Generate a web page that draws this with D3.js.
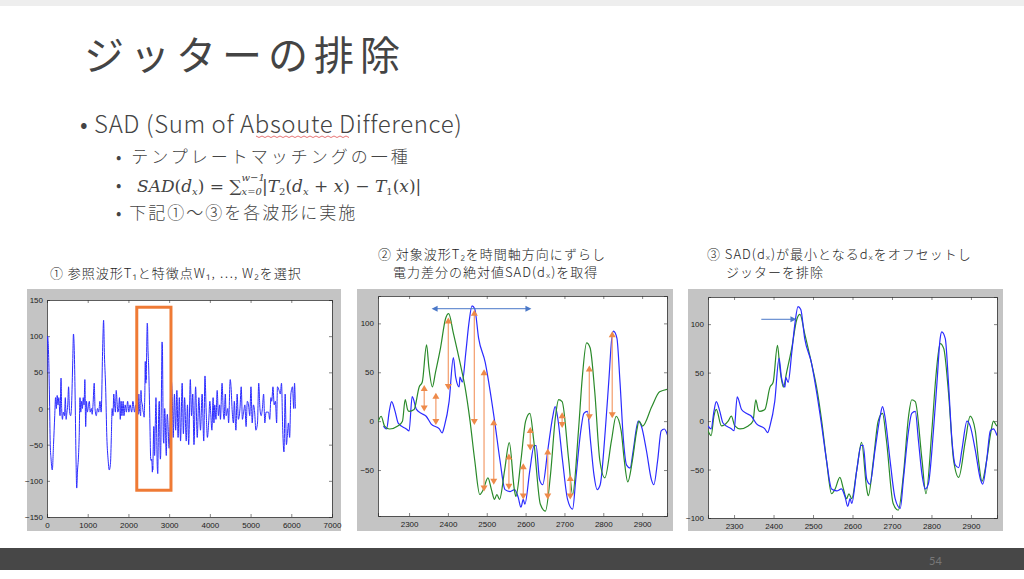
<!DOCTYPE html>
<html><head><meta charset="utf-8">
<script src="https://cdn.jsdelivr.net/npm/d3@7"></script>
<style>body{margin:0;background:#fff}svg{display:block}</style>
</head><body>
<svg id="s" width="1024" height="579"></svg>
<script>
// ---- data ----
const refWave = [[0,50],[15,100],[30,90],[60,20],[80,-50],[100,-70],[130,-85],[160,-50],[190,-10],[210,15],[230,0],[250,18],[270,5],[290,15],[320,-10],[345,42],[360,0],[380,-15],[400,-5],[430,-10],[450,15],[470,-15],[490,-5],[510,5],[530,30],[555,-5],[580,-10],[600,0],[630,60],[650,103],[670,80],[690,20],[710,-60],[730,-110],[750,-85],[770,-70],[790,-40],[810,15],[830,-5],[850,10],[870,0],[890,15],[910,5],[930,40],[950,-25],[970,10],[990,-5],[1010,0],[1040,10],[1060,-5],[1090,0],[1110,-8],[1130,5],[1160,35],[1180,0],[1210,-10],[1240,0],[1270,-5],[1300,10],[1330,-5],[1370,90],[1390,122],[1410,75],[1440,30],[1470,-40],[1500,-70],[1530,-85],[1560,-75],[1580,-40],[1600,0],[1620,-10],[1640,20],[1660,5],[1680,-5],[1700,25],[1720,10],[1740,-5],[1760,0],[1780,15],[1800,-15],[1820,10],[1840,-10],[1870,10],[1890,-10],[1920,5],[1950,-5],[1980,10],[2010,-5],[2040,5],[2080,-5],[2110,10],[2150,-5],[2180,5],[2210,-10]];
const refWaveTail = [[3000,-55],[3050,40],[3080,10],[3100,-40],[3130,20],[3160,-30],[3190,25],[3220,-40],[3250,15],[3280,-45],[3320,35],[3350,-35],[3380,15],[3420,-45],[3450,5],[3480,-50],[3520,40],[3550,-10],[3580,20],[3610,-50],[3650,30],[3690,-40],[3730,15],[3770,-30],[3810,20],[3850,-45],[3880,45],[3910,-5],[3940,-40],[3970,-20],[4000,10],[4020,-5],[4050,-30],[4080,15],[4100,-20],[4120,5],[4150,-15],[4180,25],[4210,-10],[4240,5],[4260,-15],[4300,35],[4330,-5],[4350,-15],[4380,20],[4400,-10],[4440,0],[4460,-20],[4500,40],[4520,30],[4550,-5],[4580,-20],[4600,10],[4640,-30],[4670,20],[4700,-15],[4740,0],[4770,30],[4800,-15],[4830,-5],[4860,5],[4890,-25],[4920,10],[4950,5],[4980,-10],[5010,30],[5040,-20],[5070,5],[5100,-5],[5130,-30],[5170,-20],[5200,35],[5230,0],[5260,-10],[5290,0],[5320,20],[5350,-20],[5380,-5],[5410,-5],[5440,-5],[5470,-15],[5500,15],[5520,10],[5550,30],[5580,5],[5610,10],[5640,-20],[5660,30],[5700,25],[5730,20],[5760,35],[5790,-30],[5820,-60],[5850,20],[5880,-50],[5900,-40],[5930,-20],[5960,-40],[5990,20],[6030,30],[6060,0],[6080,35],[6100,0]];
const blueWave = [[2234,-5],[2242,-8],[2249,10],[2255,20],[2264,10],[2272,-2],[2293,-8],[2300,-10],[2308,25],[2319,12],[2331,8],[2344,5],[2357,-3],[2378,-8],[2385,-12],[2391,-5],[2403,20],[2414,65],[2420,45],[2429,35],[2431,45],[2437,40],[2446,70],[2454,100],[2462,118],[2469,115],[2479,85],[2496,60],[2509,30],[2522,-5],[2534,-40],[2547,-70],[2560,-72],[2572,-70],[2581,-78],[2588,-88],[2594,-80],[2598,-85],[2611,-50],[2622,-25],[2627,-25],[2636,-60],[2644,-65],[2657,-30],[2670,5],[2676,15],[2682,5],[2695,-40],[2708,-80],[2721,-90],[2729,-60],[2742,-10],[2750,8],[2759,10],[2767,-20],[2776,-55],[2784,-70],[2792,-65],[2805,-10],[2814,40],[2822,85],[2826,92],[2835,85],[2843,40],[2852,-20],[2860,-45],[2869,-48],[2877,-30],[2890,0],[2898,-5],[2911,-30],[2924,-60],[2930,-65],[2940,-40],[2949,-10],[2957,-8],[2966,-15]];
const greenWave = [[2234,-10],[2242,-15],[2249,5],[2255,12],[2268,-5],[2285,0],[2293,5],[2302,-5],[2315,-8],[2336,-5],[2348,0],[2355,22],[2361,12],[2365,10],[2378,12],[2391,35],[2399,40],[2410,78],[2416,55],[2425,35],[2433,50],[2446,75],[2459,105],[2467,110],[2479,90],[2496,60],[2509,35],[2522,0],[2534,-40],[2547,-75],[2556,-70],[2568,-58],[2577,-70],[2585,-80],[2591,-75],[2598,-80],[2611,-50],[2623,-22],[2636,-70],[2640,-77],[2653,-40],[2665,0],[2676,8],[2686,-20],[2703,-85],[2716,-92],[2729,-55],[2742,5],[2750,22],[2759,20],[2776,-40],[2786,-75],[2801,-10],[2811,45],[2822,80],[2831,75],[2843,30],[2856,-40],[2869,-58],[2886,-20],[2898,5],[2911,-10],[2919,-40],[2928,-62],[2940,-40],[2951,-10],[2957,0],[2966,-5],[2990,15],[3010,30],[3035,33]];
const shift = 65;
const sadArrows = [[2339,35,12],[2369,27,-2],[2401,104,34],[2468,112,-2],[2493,51,-70],[2518,0,-63],[2557,-35,-68],[2594,-45,-78],[2612,-8,-28],[2657,-30,-78],[2694,7,-5],[2715,-57,-78],[2764,55,3],[2823,90,5]];
const shiftArrow = [2358,2615,115];
const offsetArrow = [2369,2458,105];
const box1 = [2205,3045,140,-113];
const yTicks1 = [-150,-100,-50,0,50,100,150];
const xTicks1 = [0,1000,2000,3000,4000,5000,6000,7000];
const xTicksZ = [2300,2400,2500,2600,2700,2800,2900];
const yTicks2 = [-50,0,50,100];
const yTicks3 = [-100,-50,0,50,100];

const svg = d3.select('#s');
const JP = '"Noto Sans CJK JP","Noto Sans",sans-serif';
const SERIF = '"DejaVu Serif","Liberation Serif",serif';
svg.append('rect').attr('width',1024).attr('height',579).attr('fill','#fff');
svg.append('rect').attr('width',1024).attr('height',6).attr('fill','#eeeeee');

svg.append('text').attr('x',84).attr('y',70).attr('font-family',JP).attr('font-size',40).attr('font-weight',400).attr('fill','#444').attr('letter-spacing',6).text('ジッターの排除');
const t = (x,y,s,txt)=>svg.append('text').attr('x',x).attr('y',y).attr('font-family',JP).attr('font-size',s).attr('fill','#444').attr('font-weight',300).text(txt);
t(80,133,24,'• SAD (Sum of Absoute Difference)').attr('letter-spacing',0.6);
svg.append('path').attr('d',d3.range(256,350,3).map((x,i)=>(i?'L':'M')+x+','+(136+(i%2)*1.5)).join('')).attr('stroke','#e05050').attr('fill','none').attr('stroke-width',0.8);
t(116,163,17,'•  テンプレートマッチングの一種').attr('letter-spacing',3);
t(116,219,17,'•  下記①〜③を各波形に実施').attr('letter-spacing',2);
t(116,191,17,'•');
const m = svg.append('text').attr('x',137).attr('y',192).attr('font-size',17).attr('fill','#444').attr('font-family',SERIF);
let subX=null;
[['SAD','i'],['(','n'],['d','i'],['x','s'],[') = ∑','n'],['x=0','s'],['|','n'],['T','i'],['2','s'],['(','n'],['d','i'],['x','s'],[' + ','n'],['x','i'],[') − ','n'],['T','i'],['1','s'],['(','n'],['x','i'],[')|','n']].forEach(([s,k])=>{
  const sp=m.append('tspan').text(s);
  if(k==='i') sp.attr('font-style','italic');
  if(k==='s') sp.attr('font-size',10).attr('baseline-shift','-25%').attr('font-style',/^\d$/.test(s)?'normal':'italic');
  if(s==='x=0') subX=sp;
});
const sx = subX.node().getStartPositionOfChar(0).x;
svg.append('text').attr('x',sx).attr('y',181).attr('font-size',10).attr('font-style','italic').attr('fill','#444').attr('font-family',SERIF).text('w−1');

const cap=(x,y,txt)=>svg.append('text').attr('x',x).attr('y',y).attr('font-family',JP).attr('font-size',13).attr('fill','#222').attr('font-weight',300).attr('letter-spacing',1).text(txt);
cap(50,278,'① 参照波形T₁と特徴点W₁, …, W₂を選択');
cap(378,259,'② 対象波形T₂を時間軸方向にずらし');
cap(393,277,'電力差分の絶対値SAD(dₓ)を取得');
cap(707,259,'③ SAD(dₓ)が最小となるdₓをオフセットし');
cap(726,277,'ジッターを排除');

function panel(grey, plot, xd, yd, xt, yt, id){
  svg.append('rect').attr('x',grey[0]).attr('y',grey[1]).attr('width',grey[2]-grey[0]).attr('height',grey[3]-grey[1]).attr('fill','#c4c4c4');
  svg.append('rect').attr('x',plot[0]).attr('y',plot[1]).attr('width',plot[2]-plot[0]).attr('height',plot[3]-plot[1]).attr('fill','#fff');
  const x=d3.scaleLinear().domain(xd).range([plot[0],plot[2]]);
  const y=d3.scaleLinear().domain(yd).range([plot[3],plot[1]]);
  const g=svg.append('g');
  g.append('g').attr('transform',`translate(0,${plot[3]})`).call(d3.axisBottom(x).tickValues(xt).tickSize(-3).tickPadding(5).tickFormat(d3.format('d')));
  g.append('g').attr('transform',`translate(${plot[0]},0)`).call(d3.axisLeft(y).tickValues(yt).tickSize(-3).tickPadding(4).tickFormat(d=>d<0?'−'+(-d):d));
  g.append('g').attr('transform',`translate(0,${plot[1]})`).call(d3.axisTop(x).tickValues(xt).tickSize(-3).tickFormat(''));
  g.append('g').attr('transform',`translate(${plot[2]},0)`).call(d3.axisRight(y).tickValues(yt).tickSize(-3).tickFormat(''));
  g.selectAll('.domain').attr('stroke','#333').attr('stroke-width',0.8);
  g.selectAll('.tick line').attr('stroke','#333').attr('stroke-width',0.6);
  g.selectAll('text').attr('font-family','Liberation Sans, Arial, sans-serif').attr('font-size',8).attr('fill','#222');
  svg.append('clipPath').attr('id',id).append('rect').attr('x',plot[0]).attr('y',plot[1]).attr('width',plot[2]-plot[0]).attr('height',plot[3]-plot[1]);
  const c=svg.append('g').attr('clip-path',`url(#${id})`);
  return {x,y,c};
}
function wave(p,data,color,w,dx=0){
  p.c.append('path').datum(data).attr('fill','none').attr('stroke',color).attr('stroke-width',w).attr('stroke-linejoin','round')
   .attr('d',d3.line().x(d=>p.x(d[0]-dx)).y(d=>p.y(d[1])).curve(d3.curveMonotoneX));
}
const BLUE='#2b2bff', GREEN='#2a8a2a', ORANGE='#ee8a4a';

const p1=panel([27,289,341,531],[47,300,332,517],[0,7000],[-150,150],xTicks1,yTicks1,'c1');
wave(p1,refWave.concat(blueWave).concat(refWaveTail),BLUE,1);
svg.append('rect').attr('x',p1.x(box1[0])).attr('y',p1.y(box1[2])).attr('width',p1.x(box1[1])-p1.x(box1[0])).attr('height',p1.y(box1[3])-p1.y(box1[2])).attr('fill','none').attr('stroke','#ef7a35').attr('stroke-width',3);

const p2=panel([357,289,673,531],[378,296,667,516],[2220,2964],[-97,128],xTicksZ,yTicks2,'c2');
wave(p2,blueWave,BLUE,1.2);
wave(p2,greenWave,GREEN,1.2,shift);
sadArrows.forEach(([xv,a,b])=>{
  const X=p2.x(xv),Y1=p2.y(a),Y2=p2.y(b);
  svg.append('line').attr('x1',X).attr('x2',X).attr('y1',Y1).attr('y2',Y2).attr('stroke','#f4a476').attr('stroke-width',1.3);
  svg.append('path').attr('d',`M${X-3.5},${Y1+4}L${X+3.5},${Y1+4}L${X},${Y1-2}Z`).attr('fill',ORANGE);
  svg.append('path').attr('d',`M${X-3.5},${Y2-4}L${X+3.5},${Y2-4}L${X},${Y2+2}Z`).attr('fill',ORANGE);
});
{const [a,b,v]=shiftArrow,X1=p2.x(a),X2=p2.x(b),Y=p2.y(v);
 svg.append('line').attr('x1',X1+4).attr('x2',X2-4).attr('y1',Y).attr('y2',Y).attr('stroke','#4a78c8').attr('stroke-width',1);
 svg.append('path').attr('d',`M${X1},${Y}L${X1+6},${Y-3}L${X1+6},${Y+3}Z M${X2},${Y}L${X2-6},${Y-3}L${X2-6},${Y+3}Z`).attr('fill','#4a78c8');}

const p3=panel([688,289,1003,531],[708,297,997,518],[2234,2966],[-100,128],xTicksZ,yTicks3,'c3');
wave(p3,greenWave,GREEN,1.2);
wave(p3,blueWave,BLUE,1.2);
{const [a,b,v]=offsetArrow,X1=p3.x(a),X2=p3.x(b),Y=p3.y(v);
 svg.append('line').attr('x1',X1).attr('x2',X2-5).attr('y1',Y).attr('y2',Y).attr('stroke','#4a78c8').attr('stroke-width',1);
 svg.append('path').attr('d',`M${X2},${Y}L${X2-6},${Y-3}L${X2-6},${Y+3}Z`).attr('fill','#4a78c8');}

svg.append('rect').attr('x',0).attr('y',548).attr('width',1024).attr('height',22).attr('fill','#474747');
svg.append('text').attr('x',929).attr('y',565).attr('font-family','Lato,sans-serif').attr('font-size',11).attr('fill','#777').text('54');
</script></body></html>
